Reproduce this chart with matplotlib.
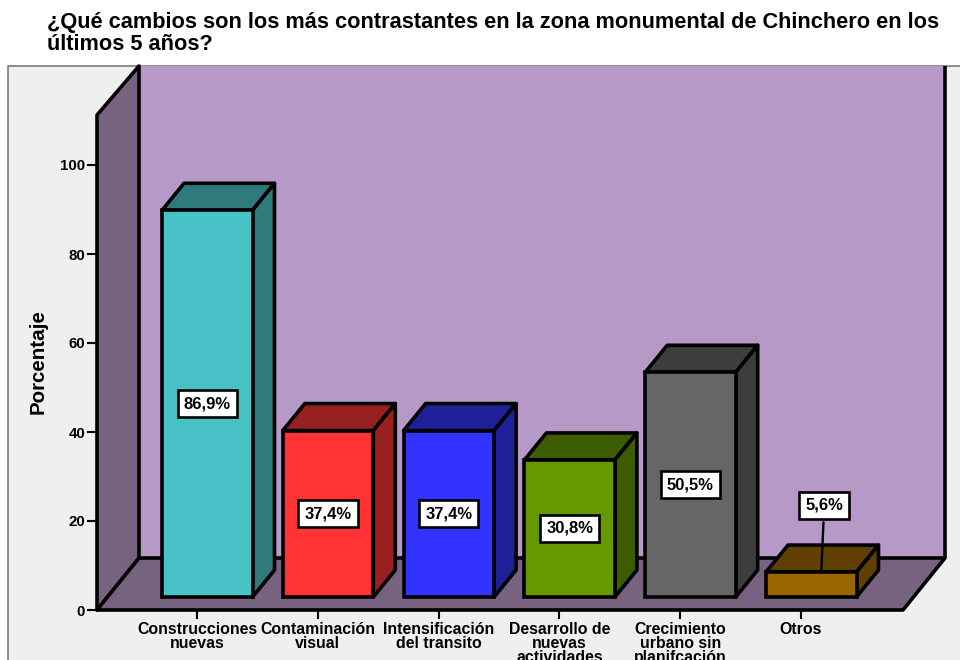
import matplotlib
matplotlib.use("Agg")
import matplotlib.pyplot as plt
from matplotlib.patches import Polygon, Rectangle

categories = ["Construcciones\nnuevas", "Contaminación\nvisual", "Intensificación\ndel transito",
              "Desarrollo de\nnuevas\nactividades", "Crecimiento\nurbano sin\nplanifcación", "Otros"]
values = [86.9, 37.4, 37.4, 30.8, 50.5, 5.6]
labels = ["86,9%", "37,4%", "37,4%", "30,8%", "50,5%", "5,6%"]
yticks = [0, 20, 40, 60, 80, 100]
front_colors = ["#48C2C6", "#FF3333", "#3333FF", "#669900", "#666666", "#996600"]
side_colors = ["#2F7A7C", "#992020", "#1F1F99", "#3D5C00", "#3D3D3D", "#5F4000"]

W, H = 960, 660
PX_X, PX_Y = 120.8, 4.45
plt.rcParams["font.family"] = ["Liberation Sans", "DejaVu Sans"]
fig = plt.figure(figsize=(W / 100, H / 100), dpi=100, facecolor="white")

# Grey chart frame (right and bottom edges run off the picture)
fig.add_artist(Rectangle((8 / W, -0.1), (W - 8) / W + 0.1, (H - 66) / H + 0.1, transform=fig.transFigure,
                         facecolor="#EFEFEF", edgecolor="#707070", linewidth=1.1, zorder=-5))

ax = fig.add_axes([97 / W, (H - 610) / H, (W - 97) / W, (610 - 66) / H])
ax.patch.set_alpha(0)
ax.set_xlim((97 - 197) / PX_X, (W - 197) / PX_X)
ax.set_ylim(0, (610 - 66) / PX_Y)
for s in ax.spines.values():
    s.set_visible(False)

LW = 2.6
x0 = (97 - 197) / PX_X
x1 = (903 - 197) / PX_X
wdx, wdy = 42 / PX_X, 52 / PX_Y
top = (610 - 115) / PX_Y
ymax = (610 - 66) / PX_Y

# Back wall, side wall, floor
ax.add_patch(Polygon([(x0 + wdx, wdy), (x1 + wdx, wdy), (x1 + wdx, ymax), (x0 + wdx, ymax)],
                     closed=True, facecolor="#B799C8", edgecolor="none", zorder=1))
ax.plot([x1 + wdx, x1 + wdx], [wdy, ymax], color="black", lw=LW, zorder=2, solid_capstyle="butt")
ax.add_patch(Polygon([(x0, 0), (x0 + wdx, wdy), (x0 + wdx, ymax), (x0, top)], closed=True,
                     facecolor="#776280", edgecolor="black", linewidth=LW, zorder=2, clip_on=False,
                     joinstyle="round"))
ax.add_patch(Polygon([(x0, 0), (x1, 0), (x1 + wdx, wdy), (x0 + wdx, wdy)], closed=True,
                     facecolor="#776280", edgecolor="black", linewidth=LW, zorder=2, clip_on=False,
                     joinstyle="round"))

# 3D bars
bl, bw = -35 / PX_X, 90.5 / PX_X
base = 13 / PX_Y
dx, dy = 22 / PX_X, 27 / PX_Y
for i, v in enumerate(values):
    l, r = i + bl, i + bl + bw
    b, t = base, base + v
    z = 3 + i
    ax.add_patch(Polygon([(l, t), (r, t), (r + dx, t + dy), (l + dx, t + dy)], closed=True,
                         facecolor=side_colors[i], edgecolor="black", linewidth=LW, zorder=z,
                         joinstyle="round"))
    ax.add_patch(Polygon([(r, b), (r + dx, b + dy), (r + dx, t + dy), (r, t)], closed=True,
                         facecolor=side_colors[i], edgecolor="black", linewidth=LW, zorder=z,
                         joinstyle="round"))
    ax.add_patch(Rectangle((l, b), bw, v, facecolor=front_colors[i], edgecolor="black",
                           linewidth=LW, zorder=z, joinstyle="miter"))
    cx = (l + r) / 2
    box = dict(boxstyle="square,pad=0.36", facecolor="white", edgecolor="black", linewidth=1.9)
    if v > 10:
        ax.text(cx, b + v / 2, labels[i], ha="center", va="center", fontsize=12, fontweight="bold",
                bbox=box, zorder=20)
    else:
        ax.annotate(labels[i], xy=(cx + 10 / PX_X, t), xytext=(cx + 13 / PX_X, t + 67 / PX_Y),
                    ha="center", va="center", fontsize=12, fontweight="bold", bbox=box, zorder=20,
                    arrowprops=dict(arrowstyle="-", color="black", lw=1.7, shrinkA=2, shrinkB=0))

ax.set_yticks(yticks)
ax.set_xticks(range(len(categories)))
ax.set_xticklabels(categories, fontsize=11.4, fontweight="bold", linespacing=0.9)
ax.tick_params(axis="y", length=7, width=1.5, labelsize=10.8, pad=1.5)
ax.tick_params(axis="x", length=6.5, width=1.5, pad=2.2)
for t in ax.get_yticklabels():
    t.set_fontweight("bold")

fig.text(38 / W, 1 - 362 / H, "Porcentaje", rotation=90, ha="center", va="center",
         fontsize=14.8, fontweight="bold")
fig.text(47 / W, 1 - 28 / H, "¿Qué cambios son los más contrastantes en la zona monumental de Chinchero en los",
         ha="left", va="baseline", fontsize=15.7, fontweight="bold")
fig.text(47 / W, 1 - 50 / H, "últimos 5 años?", ha="left", va="baseline", fontsize=15.7, fontweight="bold")

fig.savefig("out.png", dpi=100)
